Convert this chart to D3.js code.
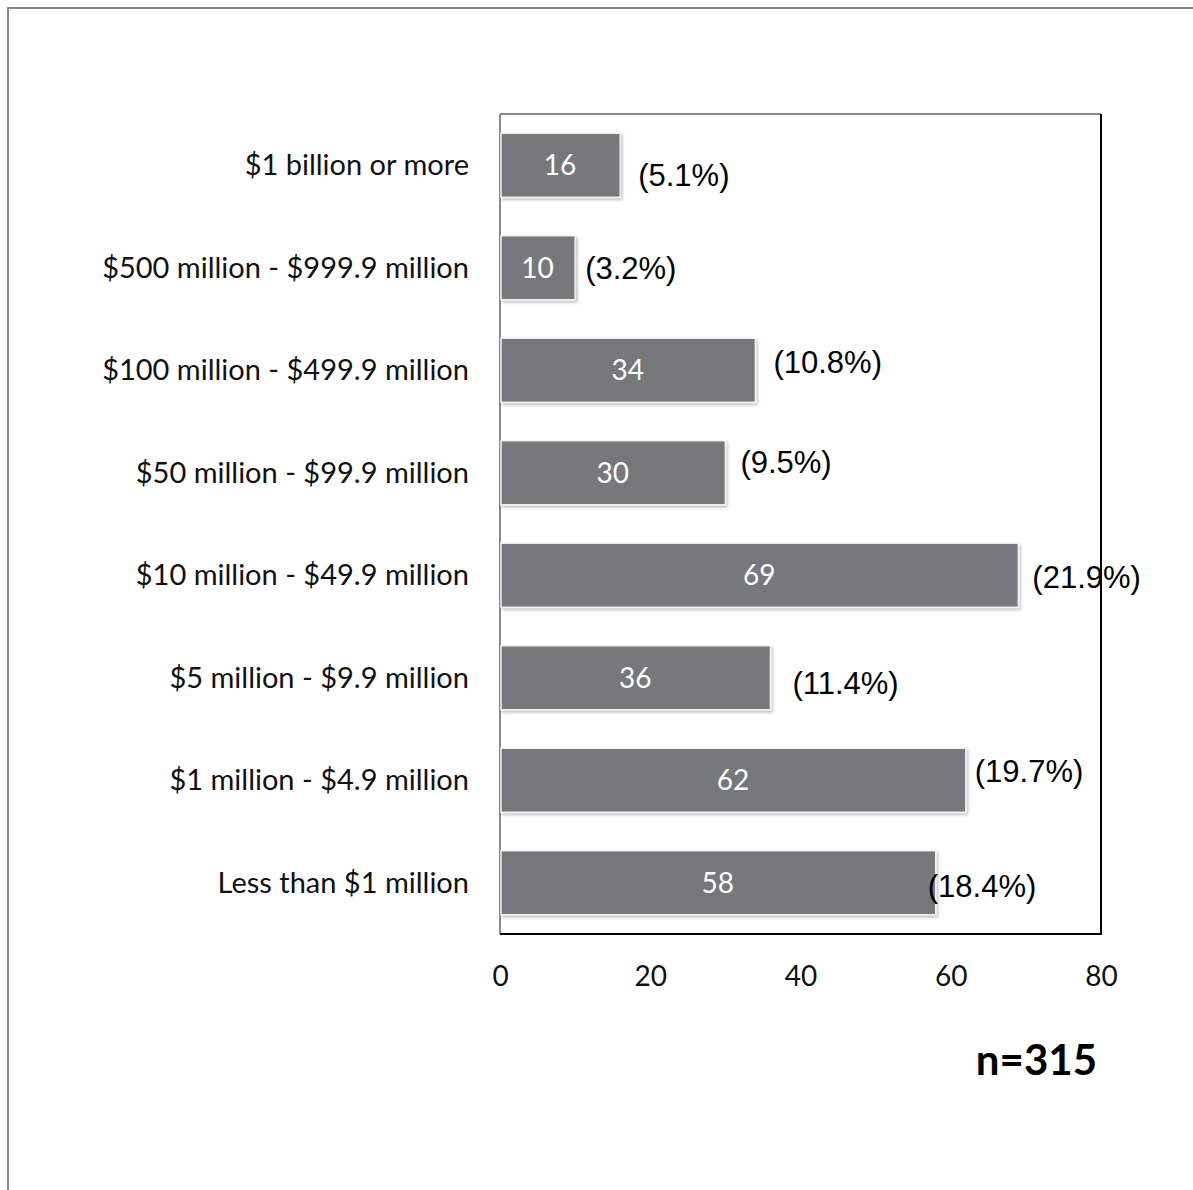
<!DOCTYPE html>
<html><head><meta charset="utf-8">
<script src="https://cdn.jsdelivr.net/npm/d3@7"></script>
<style>body{margin:0;background:#fff;} svg{display:block;}</style>
</head><body>
<svg id="chart" width="1193" height="1190"></svg>
<script>
const categories = ["$1 billion or more","$500 million - $999.9 million","$100 million - $499.9 million","$50 million - $99.9 million","$10 million - $49.9 million","$5 million - $9.9 million","$1 million - $4.9 million","Less than $1 million"];
const counts = [16,10,34,30,69,36,62,58];
const percentLabels = ["(5.1%)","(3.2%)","(10.8%)","(9.5%)","(21.9%)","(11.4%)","(19.7%)","(18.4%)"];
const tickValues = [0,20,40,60,80];
const sampleNote = "n=315";
// manual label nudges (px) as placed in the original
const labelDx = [18,10,18,15,14,22,9,-8];
const labelDy = [10,0,-8,-11,2,5,-9,3];

const svg = d3.select("#chart");
const L=500, R=1101, T=114, B=934;
const x = d3.scaleLinear().domain([0,80]).range([L,R]);
const y = d3.scaleBand().domain(categories).range([T,B]).paddingInner(0.375).paddingOuter(0.1875);
const sans = "Lato, 'Open Sans', sans-serif";

// outer frame
svg.append("rect").attr("x",8).attr("y",8).attr("width",1300).attr("height",1300)
  .attr("fill","none").attr("stroke","#878787").attr("stroke-width",2);

// plot area borders
svg.append("line").attr("x1",L).attr("x2",R).attr("y1",T).attr("y2",T).attr("stroke","#8a8a8a").attr("stroke-width",2);
svg.append("line").attr("x1",L).attr("x2",L).attr("y1",T).attr("y2",B).attr("stroke","#8a8a8a").attr("stroke-width",2);
svg.append("line").attr("x1",R).attr("x2",R).attr("y1",T).attr("y2",B+1).attr("stroke","#000").attr("stroke-width",2);
svg.append("line").attr("x1",L).attr("x2",R).attr("y1",B).attr("y2",B).attr("stroke","#000").attr("stroke-width",2);

const data = categories.map((c,i)=>({c, v:counts[i], p:percentLabels[i], dx:labelDx[i], dy:labelDy[i]}));

const defs = svg.append("defs");
const f = defs.append("filter").attr("id","sh").attr("x","-5%").attr("y","-10%").attr("width","115%").attr("height","130%");
f.append("feDropShadow").attr("dx",1.5).attr("dy",2).attr("stdDeviation",1.5).attr("flood-color","#000").attr("flood-opacity",0.25);

const g = svg.append("g");
g.selectAll("rect.bar").data(data).join("rect").attr("class","bar")
  .attr("x",x(0)+1).attr("y",d=>y(d.c)).attr("width",d=>x(d.v)-x(0)-1).attr("height",y.bandwidth())
  .attr("fill","#77787b").attr("stroke","#f2f2f2").attr("stroke-width",1.5).attr("filter","url(#sh)");

g.selectAll("text.val").data(data).join("text").attr("class","val")
  .attr("x",d=>(x(0)+x(d.v))/2).attr("y",d=>y(d.c)+y.bandwidth()/2+10)
  .attr("text-anchor","middle").attr("fill","#fff")
  .style("font-family",sans).style("font-size","28px")
  .text(d=>d.v);

g.selectAll("text.pct").data(data).join("text").attr("class","pct")
  .attr("x",d=>x(d.v)+d.dx).attr("y",d=>y(d.c)+y.bandwidth()/2+d.dy+11)
  .attr("fill","#000")
  .style("font-family","'Liberation Sans', Arial, sans-serif").style("font-size","31px")
  .text(d=>d.p);

// category labels
svg.append("g").selectAll("text").data(categories).join("text")
  .attr("x",469).attr("y",d=>y(d)+y.bandwidth()/2+10)
  .attr("text-anchor","end").attr("fill","#111")
  .style("font-family",sans).style("font-size","29px")
  .text(d=>d);

// x axis
const ax = svg.append("g").attr("transform",`translate(0,${B})`)
  .call(d3.axisBottom(x).tickValues(tickValues).tickSize(0).tickPadding(32));
ax.select(".domain").remove();
ax.selectAll("text").attr("fill","#111").style("font-family",sans).style("font-size","28px");

svg.append("text").attr("x",1097).attr("y",1075).attr("text-anchor","end")
  .style("font-family",sans).style("font-size","42px").style("font-weight","bold")
  .attr("fill","#000").text(sampleNote);
</script>
</body></html>
